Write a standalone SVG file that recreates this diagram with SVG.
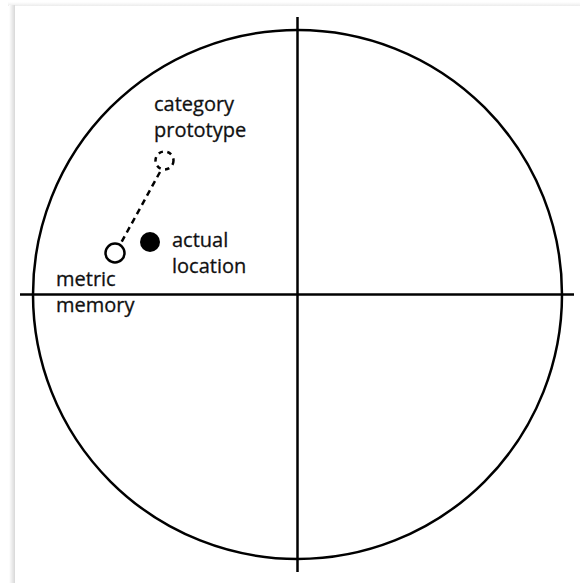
<svg xmlns="http://www.w3.org/2000/svg" width="580" height="583" viewBox="0 0 580 583">
<defs>
<linearGradient id="sh" x1="0" y1="0" x2="1" y2="0"><stop offset="0" stop-color="#ffffff"/><stop offset="1" stop-color="#d8d8d8"/></linearGradient>
<linearGradient id="shT" x1="0" y1="0" x2="0" y2="1"><stop offset="0" stop-color="#ffffff"/><stop offset="1" stop-color="#ececec"/></linearGradient>
</defs>
<style>
.ax{stroke:#000;stroke-width:2.5;fill:none}
.lbl{font-family:"Open Sans","Liberation Sans",sans-serif;font-size:20px;fill:#111;stroke:#111;stroke-width:0.3}
</style>
<rect width="580" height="583" fill="#fff"/>
<rect x="8" y="2" width="572" height="4" fill="url(#shT)"/>
<rect x="9" y="5" width="6" height="578" fill="url(#sh)"/>
<rect x="15" y="6" width="565" height="577" fill="#fff"/>
<g id="axes">
<circle class="ax" cx="297.5" cy="294.5" r="264.5"/>
<line class="ax" x1="297.5" y1="17" x2="297.5" y2="572"/>
<line class="ax" x1="20" y1="294.5" x2="574" y2="294.5"/>
</g>
<g id="connectors">
<line x1="160" y1="172" x2="121" y2="243" stroke="#000" stroke-width="2.5" stroke-dasharray="6,4.5"/>
</g>
<g id="prototype">
<circle cx="164.5" cy="160.5" r="9" fill="none" stroke="#000" stroke-width="2.5" stroke-dasharray="4.5,4.5"/>
<text class="lbl" x="154" y="111">category</text>
<text class="lbl" x="154" y="137">prototype</text>
</g>
<g id="actual">
<circle cx="150" cy="242" r="10" fill="#000"/>
<text class="lbl" x="172" y="247">actual</text>
<text class="lbl" x="172" y="273">location</text>
</g>
<g id="memory">
<circle cx="115" cy="253" r="9.5" fill="#fff" stroke="#000" stroke-width="2.5"/>
<text class="lbl" x="56" y="286">metric</text>
<text class="lbl" x="56" y="312">memory</text>
</g>
</svg>
